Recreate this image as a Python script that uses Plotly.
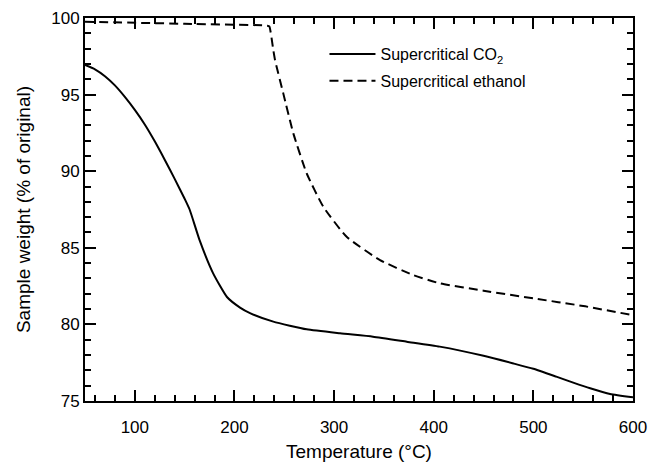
import plotly.graph_objects as go

# Supercritical CO2 (solid)
co2_temp = [50, 60, 70, 80, 90, 100, 110, 120, 130, 140, 150, 155, 165, 178.5, 192.5,
            205.6, 215.6, 239, 272.5, 306, 339, 373, 406, 450, 480, 500, 523, 540, 557,
            577, 600]
co2_weight = [96.93, 96.65, 96.2, 95.6, 94.85, 94.0, 93.05, 91.95, 90.75, 89.5, 88.2,
              87.5, 85.5, 83.35, 81.79, 81.1, 80.74, 80.18, 79.68, 79.42, 79.2, 78.87,
              78.55, 77.95, 77.45, 77.1, 76.59, 76.2, 75.83, 75.46, 75.24]

# Supercritical ethanol (dashed)
eth_temp = [50, 150, 233, 235, 239, 240.7, 249, 259.1, 272.5, 289.2, 312.6, 346.1,
            379.5, 406.3, 450, 500, 550, 600]
eth_weight = [99.76, 99.62, 99.5, 99.45, 97.9, 97.26, 95.08, 92.47, 89.86, 87.68, 85.72,
              84.2, 83.22, 82.68, 82.2, 81.7, 81.2, 80.6]

x_ticks = [100, 200, 300, 400, 500, 600]
y_ticks = [75, 80, 85, 90, 95, 100]

FONT = "Liberation Sans, Arial, sans-serif"

fig = go.Figure()
fig.add_trace(go.Scatter(x=co2_temp, y=co2_weight, mode="lines",
                         name="Supercritical CO<sub>2</sub>", legendgroup="a",
                         line=dict(color="black", width=2, shape="spline", smoothing=0.5)))
fig.add_trace(go.Scatter(x=eth_temp, y=eth_weight, mode="lines",
                         name="Supercritical ethanol", legendgroup="b",
                         line=dict(color="black", width=2, dash="9px,5px",
                                   shape="spline", smoothing=0.5)))

axis_common = dict(
    showline=True, linecolor="black", linewidth=2, mirror="allticks",
    ticks="inside", ticklen=11, tickwidth=2, tickcolor="black",
    showgrid=False, zeroline=False, automargin=False,
    tickfont=dict(family=FONT, size=17, color="black"),
)

fig.update_xaxes(range=[50, 600], tickmode="array", tickvals=x_ticks,
                 minor=dict(tickmode="linear", dtick=20, tick0=0, ticks="inside", ticklen=6,
                            tickwidth=1.5, tickcolor="black", showgrid=False),
                 ticklabelstandoff=10,
                 title=dict(text="Temperature (°C)",
                            font=dict(family=FONT, size=19, color="black"), standoff=8),
                 **axis_common)
fig.update_yaxes(range=[75, 100], tickmode="array", tickvals=y_ticks,
                 minor=dict(tickmode="linear", dtick=1, tick0=0, ticks="inside", ticklen=6,
                            tickwidth=1.5, tickcolor="black", showgrid=False),
                 title=dict(text="Sample weight (% of original)",
                            font=dict(family=FONT, size=19, color="black"), standoff=16),
                 **axis_common)

fig.update_layout(
    width=649, height=466,
    margin=dict(l=85, r=16, t=18, b=65),
    paper_bgcolor="white", plot_bgcolor="white",
    font=dict(family=FONT, color="black"),
    legend=dict(x=0.437, y=0.95, xanchor="left", yanchor="top",
                bgcolor="rgba(0,0,0,0)", borderwidth=0, traceorder="grouped",
                font=dict(family=FONT, size=16, color="black"),
                itemwidth=46, tracegroupgap=3),
)

fig.write_html("out.html")
